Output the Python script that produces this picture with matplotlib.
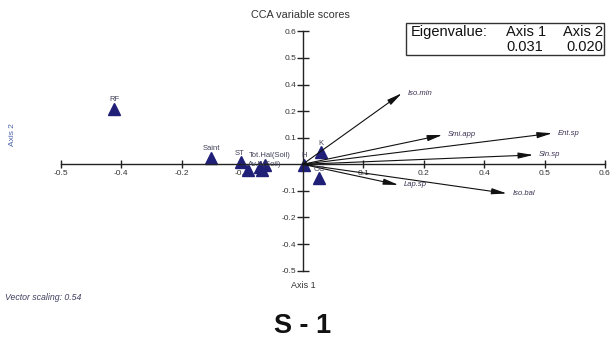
import matplotlib
matplotlib.use("Agg")

import matplotlib.pyplot as plt
from matplotlib.patches import Rectangle

plt.rcParams["font.family"] = ["Liberation Sans", "DejaVu Sans"]

# sample scores (triangles)
site_x = [-0.390, -0.189, -0.128, -0.114, -0.088, -0.084, -0.078, 0.003, 0.038, 0.034]
site_y = [0.260, 0.030, 0.009, -0.027, -0.011, -0.027, -0.003, -0.003, 0.056, -0.066]

# sample labels: name, index of the sample it belongs to, offset in points
label_names = ["RF", "Saint", "ST", "Tot.Hal(Soil)", "Av.K(Soil)", "H", "K", "OC"]
label_site = [0, 1, 2, 6, 4, 7, 8, 9]
label_dx = [0, 0, -1, -12, -9, 0, 0, 0]
label_dy = [4, 4, 4, 4, -1, 4, 4, 4]

# species vectors (arrows from origin)
species_names = ["Iso.min", "Smi.app", "Ent.sp", "Sin.sp", "Lap.sp", "Iso.bal"]
species_x = [0.205, 0.289, 0.516, 0.477, 0.198, 0.422]
species_y = [0.334, 0.138, 0.146, 0.044, -0.097, -0.137]

# axis ticks, labels as printed by the ordination program
x_ticks = [-0.5, -0.375, -0.25, -0.125, 0.125, 0.25, 0.375, 0.5, 0.625]
x_tick_labels = ["-0.5", "-0.4", "-0.2", "-0.1", "0.1", "0.2", "0.4", "0.5", "0.6"]
y_ticks = [-0.5, -0.375, -0.25, -0.125, 0.125, 0.25, 0.375, 0.5, 0.625]
y_tick_labels = ["-0.5", "-0.4", "-0.2", "-0.1", "0.1", "0.2", "0.4", "0.5", "0.6"]

eigen_axis1 = "0.031"
eigen_axis2 = "0.020"

W, H = 610, 340
fig = plt.figure(figsize=(W / 100, H / 100), dpi=100)
ax = fig.add_axes([0, 0, 1, 1])

# pixel geometry of the plot: origin and scale
ox, oy = 302.7, 164.3
sx, sy = 483.6, 212.7
ax.set_xlim(-ox / sx, (W - ox) / sx)
ax.set_ylim(-(H - oy) / sy, oy / sy)
ax.patch.set_alpha(0)

for side in ["top", "right"]:
    ax.spines[side].set_visible(False)
ax.spines["left"].set_position(("data", 0))
ax.spines["bottom"].set_position(("data", 0))
ax.spines["left"].set_bounds(-0.5, 0.625)
ax.spines["bottom"].set_bounds(-0.5, 0.625)
for side in ["left", "bottom"]:
    ax.spines[side].set_linewidth(1.0)
    ax.spines[side].set_color("#222222")

ax.set_xticks(x_ticks)
ax.set_xticklabels(x_tick_labels)
ax.set_yticks(y_ticks)
ax.set_yticklabels(y_tick_labels)
ax.tick_params(axis="x", direction="inout", length=6, width=1.0, color="#222222",
               labelsize=6, labelcolor="#333333", pad=1)
ax.tick_params(axis="y", direction="inout", length=9, width=1.0, color="#222222",
               labelsize=6, labelcolor="#333333", pad=0)

# species arrows
for name, x, y in zip(species_names, species_x, species_y):
    ax.annotate("", xy=(x, y), xytext=(0, 0),
                arrowprops=dict(arrowstyle="-|>,head_length=0.9,head_width=0.18",
                                color="#111111", lw=0.8, shrinkA=0, shrinkB=0,
                                mutation_scale=10))
    ax.annotate(name, xy=(x, y), xytext=(4, 0), textcoords="offset points",
                fontsize=5.5, style="italic", color="#3a3050", va="center", ha="left")

# sample triangles
ax.plot(site_x, site_y, linestyle="none", marker="^", markersize=8,
        color="#1f1f78", markeredgecolor="#1f1f78")
for name, i, dx, dy in zip(label_names, label_site, label_dx, label_dy):
    ha = "center" if dx == 0 or name == "ST" else "left"
    ax.annotate(name, xy=(site_x[i], site_y[i]), xytext=(dx, dy),
                textcoords="offset points", fontsize=5.5, color="#404058",
                ha=ha, va="bottom")


def px(x, y):
    return x / W, 1 - y / H


fig.text(*px(300, 15), "CCA variable scores", fontsize=7.8, color="#333333",
         ha="center", va="center")
fig.text(*px(13, 135), "Axis 2", fontsize=6, color="#4a62a8", rotation=90,
         ha="center", va="center")
fig.text(*px(303, 286), "Axis 1", fontsize=6.5, color="#333333",
         ha="center", va="center")
fig.text(*px(5, 298), "Vector scaling: 0.54", fontsize=6.3, style="italic",
         color="#404060", ha="left", va="center")
fig.text(*px(303, 326), "S - 1", fontsize=19.5, fontweight="bold", color="#111111",
         ha="center", va="center")

# eigenvalue box
bx0, by0 = px(406, 55)
bx1, by1 = px(604, 23)
fig.patches.append(Rectangle((bx0, by0), bx1 - bx0, by1 - by0, transform=fig.transFigure,
                             fill=False, edgecolor="#333333", linewidth=1.0))
fig.text(*px(411, 32), "Eigenvalue:", fontsize=10.5, ha="left", va="center", color="#111111")
fig.text(*px(546, 32), "Axis 1", fontsize=10.5, ha="right", va="center", color="#111111")
fig.text(*px(603, 32), "Axis 2", fontsize=10.5, ha="right", va="center", color="#111111")
fig.text(*px(543, 47), eigen_axis1, fontsize=10.5, ha="right", va="center", color="#111111")
fig.text(*px(603, 47), eigen_axis2, fontsize=10.5, ha="right", va="center", color="#111111")

fig.savefig("out.png", dpi=100)
